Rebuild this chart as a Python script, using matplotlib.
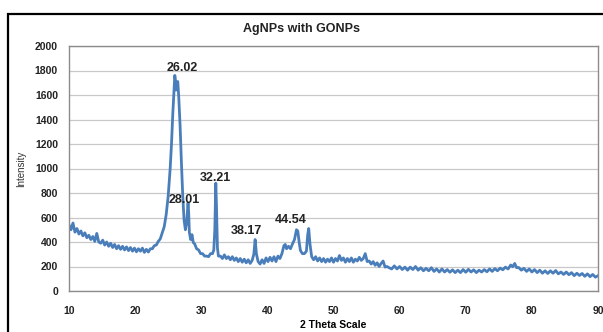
import matplotlib
matplotlib.use("Agg")
import matplotlib.pyplot as plt
from matplotlib.patches import Rectangle

# XRD scan (2 theta in degrees, intensity in counts)
two_theta = [
    10.0, 10.3, 10.6, 10.9, 11.2, 11.5, 11.8, 12.1, 12.4, 12.7, 13.0, 13.3, 13.6, 13.9,
    14.2, 14.5, 14.8, 15.1, 15.4, 15.7, 16.0, 16.3, 16.6, 16.9, 17.2, 17.5, 17.8, 18.1,
    18.4, 18.7, 19.0, 19.3, 19.6, 19.9, 20.2, 20.5, 20.8, 21.1, 21.4, 21.7, 22.0, 22.3,
    22.6, 22.9, 23.2, 23.5, 23.8, 24.1, 24.4, 24.7, 25.0, 25.3, 25.5, 25.7, 25.9, 26.0,
    26.1, 26.2, 26.3, 26.45, 26.6, 26.8, 27.0, 27.2, 27.4, 27.6, 27.8, 28.0, 28.1, 28.2,
    28.4, 28.6, 28.8, 29.0, 29.3, 29.6, 29.9, 30.2, 30.5, 30.8, 31.1, 31.4, 31.7, 31.9,
    32.05, 32.2, 32.3, 32.45, 32.6, 32.9, 33.2, 33.5, 33.8, 34.1, 34.4, 34.7, 35.0, 35.3,
    35.6, 35.9, 36.2, 36.5, 36.8, 37.1, 37.4, 37.7, 37.95, 38.15, 38.35, 38.6, 38.9, 39.2,
    39.5, 39.8, 40.1, 40.4, 40.7, 41.0, 41.3, 41.6, 41.9, 42.2, 42.5, 42.7, 42.9, 43.2,
    43.5, 43.8, 44.1, 44.4, 44.6, 44.8, 45.0, 45.3, 45.6, 45.9, 46.1, 46.25, 46.45, 46.7,
    47.0, 47.3, 47.6, 47.9, 48.2, 48.5, 48.8, 49.1, 49.4, 49.7, 50.0, 50.3, 50.6, 50.9,
    51.2, 51.5, 51.8, 52.1, 52.4, 52.7, 53.0, 53.3, 53.6, 53.9, 54.2, 54.5, 54.8, 55.1,
    55.4, 55.7, 56.0, 56.3, 56.6, 56.9, 57.2, 57.5, 57.8, 58.1, 58.4, 58.8, 59.2, 59.6,
    60.0, 60.4, 60.8, 61.2, 61.6, 62.0, 62.4, 62.8, 63.2, 63.6, 64.0, 64.4, 64.8, 65.2,
    65.6, 66.0, 66.4, 66.8, 67.2, 67.6, 68.0, 68.4, 68.8, 69.2, 69.6, 70.0, 70.4, 70.8,
    71.2, 71.6, 72.0, 72.4, 72.8, 73.2, 73.6, 74.0, 74.4, 74.8, 75.2, 75.6, 76.0, 76.4,
    76.8, 77.1, 77.4, 77.7, 78.0, 78.4, 78.8, 79.2, 79.6, 80.0, 80.4, 80.8, 81.2, 81.6,
    82.0, 82.4, 82.8, 83.2, 83.6, 84.0, 84.4, 84.8, 85.2, 85.6, 86.0, 86.4, 86.8, 87.2,
    87.6, 88.0, 88.4, 88.8, 89.2, 89.6, 90.0,
]
intensity = [
    540, 500, 555, 480, 510, 465, 490, 450, 475, 435, 455, 420, 445, 405,
    470, 400, 390, 415, 375, 400, 365, 390, 355, 380, 345, 370, 340, 365,
    335, 360, 330, 355, 325, 350, 320, 345, 325, 350, 315, 340, 318, 345,
    345, 370, 375, 405, 425, 475, 525, 625, 775, 1000, 1200, 1450, 1650, 1760,
    1720, 1640, 1700, 1710, 1580, 1350, 1050, 780, 580, 500, 560, 720, 640, 480,
    420, 460, 395, 385, 345, 335, 305, 305, 285, 285, 280, 305, 305, 335,
    500, 880, 700, 350, 285, 285, 265, 295, 265, 280, 255, 280, 250, 270,
    240, 265, 235, 260, 230, 255, 225, 250, 300, 420, 300, 240, 220, 255,
    225, 270, 240, 275, 245, 280, 240, 285, 265, 305, 370, 380, 345, 365,
    345, 385, 420, 500, 490, 400, 330, 305, 305, 325, 460, 510, 380, 280,
    255, 280, 245, 270, 240, 265, 235, 260, 240, 270, 235, 265, 245, 290,
    250, 270, 235, 265, 240, 270, 235, 260, 245, 275, 250, 265, 305, 240,
    245, 220, 240, 210, 230, 200, 225, 245, 195, 200, 190, 180, 205, 180,
    200, 175, 195, 170, 195, 175, 200, 170, 190, 165, 185, 165, 190, 160,
    180, 155, 180, 155, 175, 153, 173, 150, 170, 150, 175, 153, 177, 155,
    173, 150, 170, 155, 175, 157, 180, 160, 183, 165, 187, 173, 195, 180,
    212, 198, 225, 190, 192, 170, 185, 160, 180, 155, 175, 150, 170, 145,
    165, 143, 165, 145, 167, 140, 155, 135, 155, 133, 150, 125, 145, 127,
    143, 120, 140, 117, 135, 113, 125,
]

# peak labels and where their text sits
peak_labels = ["26.02", "28.01", "32.21", "38.17", "44.54"]
label_x = [27.1, 27.4, 32.1, 36.8, 43.6]
label_y = [1820, 743, 922, 490, 580]

y_ticks = list(range(0, 2001, 200))
x_ticks = list(range(10, 91, 10))

plt.rcParams['font.family'] = ['Liberation Sans Narrow', 'Liberation Sans', 'DejaVu Sans']

fig = plt.figure(figsize=(6.03, 3.32), dpi=100)
ax = fig.add_axes([69 / 603, 1 - 291 / 332, 529 / 603, 245 / 332])

ax.plot(two_theta, intensity, color='#4a7ebb', lw=2.0)

for lab, lx, ly in zip(peak_labels, label_x, label_y):
    ax.text(lx, ly, lab, ha='center', va='center', fontsize=9,
            fontweight='bold', color='#222222')

ax.set_xlim(10, 90)
ax.set_ylim(0, 2000)
ax.set_xticks(x_ticks)
ax.set_yticks(y_ticks)
ax.tick_params(length=0, labelsize=7.5)
ax.tick_params(axis='x', pad=11)
ax.tick_params(axis='y', pad=8)
for lbl in ax.get_xticklabels() + ax.get_yticklabels():
    lbl.set_fontweight('bold')
    lbl.set_color('#222222')

ax.grid(True, axis='y', color='#c8c8c8', lw=0.9)
ax.set_axisbelow(True)
for sp in ax.spines.values():
    sp.set_color('#8c8c8c')
    sp.set_linewidth(1.0)

ax.set_xlabel('2 Theta Scale', fontsize=7.5, fontweight='bold', labelpad=3)
ax.set_ylabel('Intensity', fontsize=7, labelpad=6, color='#333333')

fig.text(0.5, 1 - 29 / 332, 'AgNPs with GONPs', ha='center', va='center',
         fontsize=9, fontweight='bold', color='#222222')

# black outer frame, running off the right and bottom edge
fig.patches.append(Rectangle((8 / 603, -0.1), 1.2, 1 - 14 / 332 + 0.1,
                             transform=fig.transFigure, fill=False,
                             ec='black', lw=1.6))

fig.savefig('out.png', dpi=100)
